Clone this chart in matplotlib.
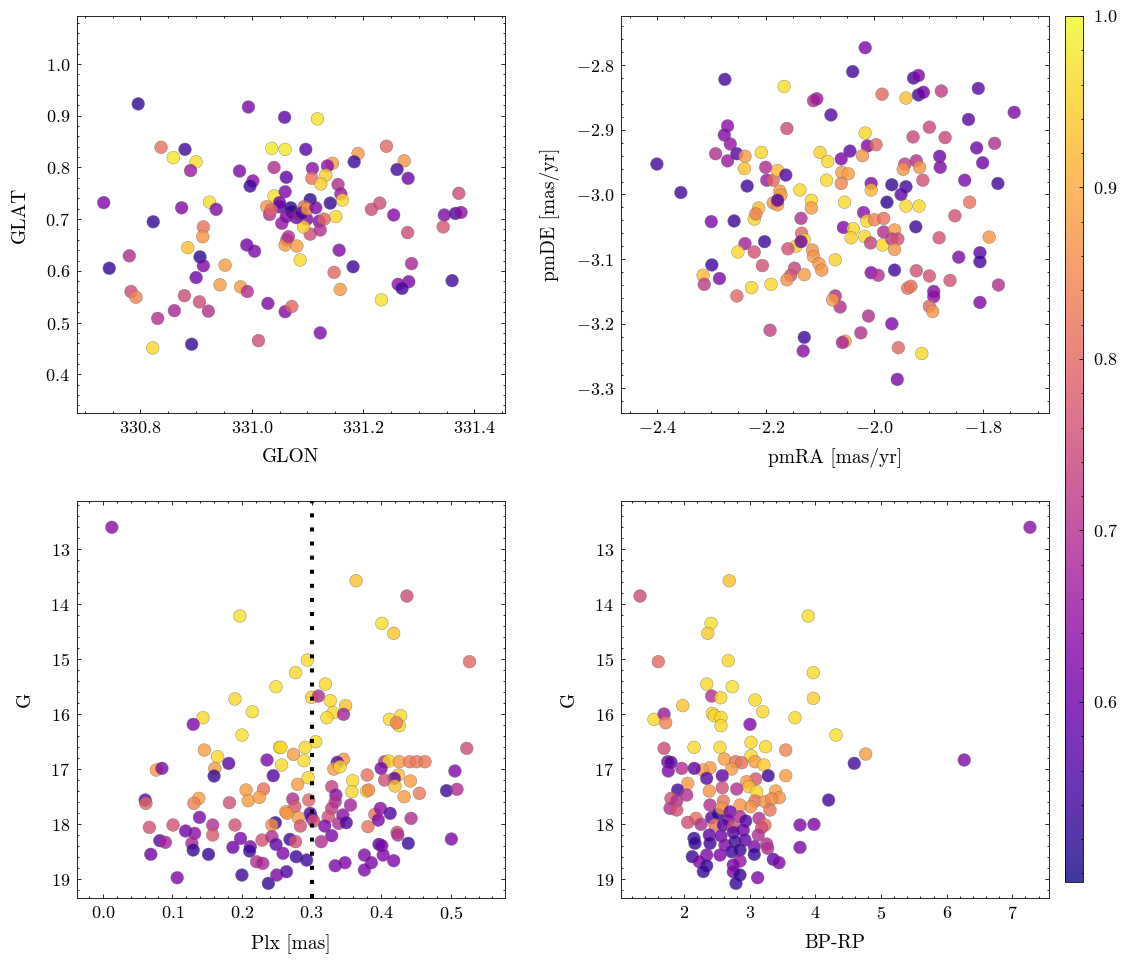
import matplotlib
matplotlib.use("Agg")
import matplotlib.pyplot as plt
from matplotlib.ticker import MultipleLocator, AutoMinorLocator
from matplotlib.colors import Normalize

plt.rcParams.update({
    'font.family': 'serif', 'font.serif': ['cmr10', 'DejaVu Serif'],
    'mathtext.fontset': 'cm', 'axes.formatter.use_mathtext': True,
    'font.size': 13, 'axes.labelsize': 14,
    'xtick.direction': 'in', 'ytick.direction': 'in',
    'xtick.top': True, 'ytick.right': True,
    'xtick.minor.visible': True, 'ytick.minor.visible': True,
    'xtick.major.size': 3, 'xtick.minor.size': 1.5,
    'ytick.major.size': 3, 'ytick.minor.size': 1.5,
    'xtick.major.width': 0.6, 'xtick.minor.width': 0.6,
    'ytick.major.width': 0.6, 'ytick.minor.width': 0.6,
    'axes.linewidth': 0.6,
})

# ---------------- data: sky positions ----------------
glon = [330.796, 330.994, 331.059, 330.837, 330.880, 330.859, 330.900, 330.890, 331.036, 331.060,
        330.978, 331.002, 330.997, 331.040, 331.062, 330.734, 330.874, 330.924, 330.936, 330.823,
        330.913, 330.912, 330.885, 330.780, 330.744, 330.907, 330.913, 330.952, 330.900, 330.991,
        331.005, 330.783, 330.792, 330.879, 330.906, 330.943, 330.980, 330.992, 330.861, 330.922,
        330.831, 331.029, 331.060, 331.012, 330.822, 330.892, 331.040, 331.027, 331.032, 331.050,
        331.060, 331.054, 331.063, 331.060, 331.118, 331.097, 331.191, 331.184, 331.242, 331.274,
        331.261, 331.281, 331.145, 331.136, 331.109, 331.108, 331.133, 331.124, 331.155, 331.160,
        331.163, 331.141, 331.105, 331.151, 331.072, 331.094, 331.084, 331.099, 331.121, 331.130,
        331.105, 331.123, 331.093, 331.066, 331.081, 331.087, 331.072, 331.215, 331.230, 331.255,
        331.280, 331.157, 331.182, 331.148, 331.159, 331.233, 331.287, 331.282, 331.263, 331.270,
        331.123, 331.372, 331.346, 331.366, 331.376, 331.344, 331.360,
        331.070, 331.080, 331.050, 331.090, 331.100, 331.062, 331.115, 331.035]
glat = [0.923, 0.917, 0.897, 0.839, 0.835, 0.819, 0.811, 0.794, 0.837, 0.835,
        0.793, 0.774, 0.764, 0.800, 0.781, 0.732, 0.722, 0.733, 0.719, 0.695,
        0.685, 0.666, 0.645, 0.629, 0.605, 0.627, 0.610, 0.611, 0.587, 0.650,
        0.638, 0.560, 0.549, 0.552, 0.540, 0.573, 0.569, 0.560, 0.523, 0.522,
        0.508, 0.537, 0.521, 0.465, 0.451, 0.458, 0.745, 0.724, 0.709, 0.724,
        0.753, 0.692, 0.660, 0.650, 0.894, 0.835, 0.827, 0.811, 0.841, 0.813,
        0.796, 0.779, 0.808, 0.803, 0.798, 0.779, 0.785, 0.768, 0.767, 0.749,
        0.737, 0.731, 0.738, 0.705, 0.714, 0.724, 0.711, 0.700, 0.696, 0.700,
        0.671, 0.679, 0.685, 0.666, 0.648, 0.621, 0.531, 0.719, 0.731, 0.708,
        0.674, 0.640, 0.608, 0.597, 0.564, 0.544, 0.614, 0.579, 0.574, 0.566,
        0.480, 0.750, 0.708, 0.711, 0.713, 0.685, 0.581,
        0.722, 0.703, 0.732, 0.712, 0.720, 0.705, 0.722, 0.718]
prob_sky = [0.53, 0.62, 0.57, 0.82, 0.55, 0.98, 0.97, 0.66, 0.98, 0.98,
            0.62, 0.64, 0.54, 0.70, 0.58, 0.62, 0.63, 0.97, 0.63, 0.53,
            0.82, 0.87, 0.93, 0.70, 0.53, 0.52, 0.62, 0.88, 0.60, 0.60,
            0.62, 0.75, 0.85, 0.75, 0.75, 0.88, 0.88, 0.70, 0.68, 0.70,
            0.70, 0.62, 0.63, 0.75, 0.96, 0.53, 0.97, 0.87, 0.70, 0.58,
            0.62, 0.65, 0.70, 0.88, 0.97, 0.57, 0.88, 0.54, 0.80, 0.87,
            0.55, 0.60, 0.88, 0.64, 0.64, 0.82, 0.95, 0.95, 0.70, 0.66,
            0.96, 0.53, 0.52, 0.96, 0.52, 0.80, 0.95, 0.63, 0.63, 0.80,
            0.75, 0.70, 0.95, 0.70, 0.88, 0.96, 0.80, 0.75, 0.75, 0.63,
            0.75, 0.62, 0.54, 0.80, 0.88, 0.97, 0.68, 0.62, 0.64, 0.55,
            0.62, 0.75, 0.62, 0.55, 0.64, 0.77, 0.55,
            0.52, 0.60, 0.60, 0.56, 0.88, 0.62, 0.62, 0.80]

# ---------------- data: proper motions ----------------
pmra = [-2.400, -2.356, -2.275, -2.166, -2.112, -2.106, -2.080, -2.161, -2.270, -2.276,
        -2.265, -2.292, -2.270, -2.253, -2.238, -2.239, -2.208, -2.200, -2.198, -2.186,
        -2.178, -2.163, -2.234, -2.174, -2.172, -2.186, -2.178, -2.178, -2.137, -2.116,
        -2.116, -2.100, -2.086, -2.088, -2.213, -2.221, -2.218, -2.300, -2.258, -2.135,
        -2.202, -2.238, -2.221, -2.251, -2.134, -2.129, -2.144, -2.135, -2.159, -2.114,
        -2.112, -2.102, -2.097, -2.299, -2.315, -2.313, -2.285, -2.206, -2.147, -2.154,
        -2.161, -2.129, -2.226, -2.190, -2.253, -2.192, -2.129, -2.131, -2.072, -2.072,
        -2.017, -2.040, -1.986, -1.942, -1.928, -1.919, -1.919, -1.910, -1.877, -1.809,
        -1.743, -1.827, -1.899, -1.929, -1.870, -1.779, -1.812, -1.801, -1.880, -1.879,
        -1.923, -1.944, -1.917, -1.947, -1.911, -1.834, -1.773, -2.017, -2.013, -1.997,
        -2.022, -2.045, -2.061, -2.060, -2.048, -2.061, -2.006, -2.006, -1.968, -1.942,
        -1.951, -1.977, -2.055, -1.942, -1.918, -2.020, -2.014, -2.000, -1.983, -2.057,
        -2.039, -2.043, -2.018, -2.007, -1.985, -1.983, -1.963, -1.968, -1.957, -1.963,
        -1.924, -1.881, -1.852, -1.825, -1.789, -1.845, -1.806, -1.806, -2.006, -1.993,
        -1.963, -1.923, -1.899, -1.861, -1.772, -1.939, -1.933, -1.891, -1.891, -1.899,
        -1.893, -1.806, -2.063, -2.077, -2.011, -1.968, -2.025, -2.054, -2.059, -1.956,
        -1.913, -1.958]
pmde = [-2.953, -2.997, -2.822, -2.833, -2.855, -2.852, -2.877, -2.898, -2.894, -2.908,
        -2.922, -2.937, -2.948, -2.937, -2.941, -2.960, -2.935, -2.958, -2.978, -2.978,
        -2.963, -2.970, -2.987, -2.995, -3.001, -3.013, -3.016, -3.009, -2.993, -3.009,
        -3.021, -2.935, -2.949, -2.978, -3.021, -3.038, -3.030, -3.042, -3.041, -3.037,
        -3.073, -3.076, -3.089, -3.089, -3.060, -3.070, -3.080, -3.073, -3.084, -3.086,
        -3.096, -3.107, -3.117, -3.109, -3.125, -3.139, -3.130, -3.110, -3.114, -3.125,
        -3.132, -3.124, -3.144, -3.139, -3.157, -3.210, -3.221, -3.242, -3.157, -3.101,
        -2.773, -2.810, -2.845, -2.851, -2.820, -2.816, -2.846, -2.842, -2.840, -2.836,
        -2.873, -2.884, -2.896, -2.911, -2.912, -2.921, -2.928, -2.951, -2.941, -2.958,
        -2.948, -2.953, -2.958, -2.961, -2.978, -2.978, -2.983, -2.905, -2.925, -2.923,
        -2.940, -2.933, -2.945, -2.966, -2.968, -2.983, -2.983, -2.993, -2.985, -2.988,
        -3.000, -3.012, -3.012, -3.018, -3.018, -3.028, -3.041, -3.039, -3.037, -3.051,
        -3.053, -3.067, -3.065, -3.075, -3.078, -3.058, -3.055, -3.069, -3.069, -3.085,
        -3.050, -3.067, -3.033, -3.012, -3.066, -3.097, -3.090, -3.104, -3.121, -3.125,
        -3.117, -3.118, -3.126, -3.133, -3.140, -3.145, -3.142, -3.150, -3.158, -3.173,
        -3.181, -3.167, -3.174, -3.163, -3.188, -3.200, -3.214, -3.227, -3.229, -3.237,
        -3.246, -3.286]
prob_pm = [0.55, 0.55, 0.55, 0.97, 0.70, 0.66, 0.57, 0.75, 0.64, 0.63,
           0.65, 0.70, 0.66, 0.57, 0.88, 0.93, 0.96, 0.70, 0.66, 0.80,
           0.92, 0.56, 0.54, 0.88, 0.88, 0.87, 0.88, 0.57, 0.96, 0.96,
           0.88, 0.95, 0.96, 0.96, 0.92, 0.96, 0.84, 0.62, 0.54, 0.70,
           0.54, 0.67, 0.76, 0.96, 0.80, 0.96, 0.95, 0.60, 0.76, 0.87,
           0.87, 0.87, 0.87, 0.54, 0.92, 0.72, 0.62, 0.76, 0.74, 0.76,
           0.86, 0.88, 0.96, 0.96, 0.80, 0.73, 0.54, 0.64, 0.70, 0.95,
           0.62, 0.55, 0.80, 0.93, 0.55, 0.62, 0.55, 0.60, 0.72, 0.57,
           0.62, 0.58, 0.74, 0.74, 0.74, 0.70, 0.60, 0.60, 0.60, 0.62,
           0.70, 0.72, 0.87, 0.87, 0.76, 0.62, 0.55, 0.96, 0.62, 0.80,
           0.87, 0.58, 0.62, 0.88, 0.88, 0.85, 0.62, 0.92, 0.53, 0.55,
           0.58, 0.52, 0.96, 0.96, 0.96, 0.64, 0.96, 0.84, 0.82, 0.62,
           0.96, 0.95, 0.96, 0.73, 0.96, 0.70, 0.88, 0.72, 0.76, 0.87,
           0.54, 0.76, 0.76, 0.82, 0.87, 0.62, 0.58, 0.55, 0.62, 0.70,
           0.55, 0.76, 0.76, 0.76, 0.70, 0.82, 0.82, 0.62, 0.64, 0.80,
           0.87, 0.62, 0.70, 0.88, 0.70, 0.62, 0.70, 0.88, 0.68, 0.80,
           0.96, 0.62]

# ---------------- data: parallax vs G ----------------
plx = [0.013, 0.197, 0.249, 0.190, 0.215, 0.144, 0.130, 0.200, 0.254, 0.256,
       0.146, 0.165, 0.181, 0.236, 0.257, 0.077, 0.085, 0.161, 0.160, 0.245,
       0.206, 0.231, 0.209, 0.225, 0.061, 0.062, 0.138, 0.131, 0.182, 0.263,
       0.067, 0.101, 0.119, 0.132, 0.139, 0.158, 0.158, 0.190, 0.248, 0.243,
       0.082, 0.090, 0.128, 0.130, 0.069, 0.152, 0.198, 0.212, 0.211, 0.187,
       0.229, 0.243, 0.249, 0.259, 0.221, 0.230, 0.107, 0.200, 0.238, 0.250,
       0.264, 0.269,
       0.364, 0.437, 0.401, 0.418, 0.527, 0.294, 0.277, 0.320, 0.300, 0.310,
       0.327, 0.349, 0.331, 0.322, 0.346, 0.412, 0.428, 0.426, 0.422, 0.523,
       0.306, 0.291, 0.274, 0.289, 0.346, 0.337, 0.332, 0.341, 0.295, 0.280,
       0.329, 0.335, 0.359, 0.358, 0.380, 0.379, 0.382, 0.405, 0.411, 0.426,
       0.441, 0.451, 0.463, 0.400, 0.425, 0.419, 0.405, 0.420, 0.442, 0.433,
       0.455, 0.506, 0.494, 0.509, 0.273, 0.296, 0.276, 0.329, 0.356, 0.334,
       0.298, 0.300, 0.281, 0.265, 0.284, 0.303, 0.324, 0.319, 0.339, 0.345,
       0.350, 0.329, 0.314, 0.381, 0.391, 0.396, 0.399, 0.413, 0.443, 0.423,
       0.424, 0.397, 0.401, 0.439, 0.501, 0.277, 0.278, 0.293, 0.334, 0.348,
       0.376, 0.386, 0.376, 0.403, 0.418]
g_plx = [12.605, 14.218, 15.503, 15.727, 15.958, 16.067, 16.188, 16.382, 16.606, 16.606,
         16.655, 16.776, 16.897, 16.836, 16.927, 17.018, 16.988, 16.988, 17.127, 17.121,
         17.382, 17.364, 17.576, 17.515, 17.564, 17.624, 17.533, 17.624, 17.612, 17.776,
         18.061, 18.018, 18.127, 18.170, 17.879, 18.018, 18.200, 18.018, 17.976, 18.018,
         18.303, 18.333, 18.351, 18.473, 18.551, 18.551, 18.261, 18.412, 18.491, 18.424,
         18.291, 18.230, 18.370, 18.533, 18.685, 18.715, 18.976, 18.927, 19.079, 18.927,
         18.867, 18.279,
         13.576, 13.855, 14.352, 14.533, 15.048, 15.018, 15.248, 15.455, 15.697, 15.673,
         15.758, 15.848, 15.976, 16.067, 16.006, 16.097, 16.030, 16.212, 16.158, 16.624,
         16.503, 16.606, 16.733, 16.848, 16.824, 16.879, 17.000, 16.958, 17.158, 17.279,
         17.321, 17.473, 17.212, 17.412, 17.109, 17.400, 17.382, 16.867, 16.855, 16.867,
         16.867, 16.867, 16.867, 16.988, 17.109, 17.170, 17.200, 17.309, 17.218, 17.503,
         17.442, 17.036, 17.394, 17.369, 17.545, 17.564, 17.685, 17.715, 17.655, 17.594,
         17.806, 17.885, 17.885, 17.806, 18.036, 17.945, 17.867, 18.036, 17.988, 17.836,
         17.976, 18.212, 18.321, 18.048, 17.824, 17.927, 17.715, 17.806, 17.897, 18.152,
         18.200, 18.370, 18.394, 18.351, 18.273, 18.321, 18.594, 18.655, 18.758, 18.703,
         18.564, 18.703, 18.836, 18.564, 18.667]
prob_plx = [0.64, 0.97, 0.97, 0.96, 0.97, 0.96, 0.62, 0.97, 0.96, 0.96,
            0.88, 0.96, 0.57, 0.62, 0.96, 0.88, 0.62, 0.88, 0.53, 0.57,
            0.88, 0.82, 0.88, 0.88, 0.57, 0.80, 0.88, 0.84, 0.76, 0.88,
            0.76, 0.76, 0.60, 0.64, 0.62, 0.70, 0.78, 0.76, 0.53, 0.86,
            0.57, 0.68, 0.68, 0.53, 0.60, 0.53, 0.62, 0.62, 0.54, 0.60,
            0.76, 0.70, 0.58, 0.62, 0.70, 0.68, 0.62, 0.54, 0.53, 0.62,
            0.57, 0.54,
            0.93, 0.75, 0.97, 0.94, 0.80, 0.96, 0.96, 0.96, 0.95, 0.70,
            0.96, 0.93, 0.96, 0.96, 0.68, 0.96, 0.96, 0.96, 0.84, 0.75,
            0.96, 0.96, 0.88, 0.96, 0.88, 0.57, 0.88, 0.96, 0.96, 0.88,
            0.73, 0.64, 0.96, 0.96, 0.82, 0.96, 0.85, 0.70, 0.96, 0.88,
            0.83, 0.83, 0.83, 0.62, 0.93, 0.57, 0.76, 0.93, 0.88, 0.88,
            0.83, 0.62, 0.54, 0.70, 0.70, 0.80, 0.77, 0.72, 0.67, 0.70,
            0.56, 0.60, 0.88, 0.87, 0.76, 0.76, 0.76, 0.62, 0.70, 0.64,
            0.56, 0.62, 0.70, 0.82, 0.82, 0.62, 0.64, 0.56, 0.70, 0.76,
            0.70, 0.56, 0.62, 0.54, 0.62, 0.76, 0.54, 0.54, 0.62, 0.62,
            0.62, 0.62, 0.62, 0.62, 0.62]
plx_cut = 0.3

# ---------------- data: colour-magnitude ----------------
bprp = [7.270, 4.313, 4.765, 4.591, 6.268, 4.200,
        1.325, 2.686, 3.890, 2.407, 2.357, 1.604, 2.671, 3.967, 2.341, 2.732,
        3.967, 2.417, 2.555, 1.976, 3.078, 3.195, 2.427, 2.457, 2.559, 2.559,
        1.538, 1.691, 1.716, 3.687, 3.002, 2.148, 2.544, 3.017, 3.240, 3.546,
        1.691, 3.017, 2.610, 2.784, 2.875, 3.078, 3.215, 2.722, 2.392, 2.280,
        1.747, 1.797, 1.756, 1.960, 2.152, 2.341, 2.579, 3.280, 3.546, 3.088,
        2.951, 2.986, 2.052, 2.579, 2.799, 2.381, 1.899, 2.037, 3.103, 3.393,
        3.448, 3.078, 3.230, 3.332, 3.306, 3.012, 2.849, 2.392, 2.595, 1.797,
        1.884, 1.782, 1.884, 2.178, 2.052, 2.255, 2.417, 2.518, 2.570, 2.697,
        2.671, 2.468, 2.595, 2.747, 2.849, 2.936, 2.899, 2.747, 3.139, 3.230,
        3.180, 3.128, 2.381, 2.148, 2.163, 2.392, 2.559, 2.620, 2.773, 2.925,
        3.067, 3.256, 3.271, 2.122, 2.341, 2.229, 2.341, 2.290, 2.544, 2.722,
        2.849, 2.849, 2.747, 2.747, 2.849, 2.788, 3.118, 3.067, 3.357, 3.444,
        3.764, 3.977, 3.764]
g_cmd = [12.605, 16.382, 16.727, 16.897, 16.836, 17.564,
         13.855, 13.576, 14.218, 14.352, 14.533, 15.048, 15.030, 15.248, 15.455, 15.503,
         15.715, 15.673, 15.703, 15.848, 15.745, 15.958, 15.988, 16.030, 16.061, 16.212,
         16.097, 16.000, 16.158, 16.067, 16.188, 16.606, 16.606, 16.515, 16.594, 16.655,
         16.624, 16.758, 16.818, 16.867, 16.885, 16.867, 16.927, 17.000, 16.976, 17.018,
         16.867, 16.879, 17.036, 16.988, 16.988, 17.170, 17.121, 17.121, 17.121, 17.182,
         17.230, 17.321, 17.261, 17.339, 17.364, 17.400, 17.382, 17.473, 17.412, 17.400,
         17.521, 17.582, 17.594, 17.545, 17.745, 17.685, 17.655, 17.655, 17.582, 17.533,
         17.582, 17.715, 17.745, 17.897, 17.970, 18.006, 17.885, 17.818, 17.715, 17.776,
         17.927, 18.018, 18.018, 18.048, 17.867, 17.945, 18.109, 18.152, 17.897, 18.018,
         18.067, 18.200, 18.200, 18.261, 18.351, 18.351, 18.218, 18.382, 18.321, 18.291,
         18.412, 18.364, 18.442, 18.594, 18.564, 18.685, 18.758, 18.864, 18.564, 18.503,
         18.473, 18.673, 18.745, 18.867, 18.927, 19.079, 18.976, 18.551, 18.642, 18.703,
         18.018, 18.006, 18.424]
prob_cmd = [0.64, 0.97, 0.88, 0.55, 0.62, 0.55,
            0.75, 0.93, 0.97, 0.97, 0.94, 0.80, 0.96, 0.96, 0.96, 0.97,
            0.95, 0.70, 0.96, 0.93, 0.96, 0.96, 0.96, 0.96, 0.96, 0.96,
            0.96, 0.66, 0.84, 0.96, 0.62, 0.96, 0.96, 0.96, 0.96, 0.85,
            0.75, 0.96, 0.88, 0.82, 0.82, 0.88, 0.94, 0.88, 0.88, 0.88,
            0.62, 0.57, 0.62, 0.70, 0.58, 0.57, 0.58, 0.54, 0.88, 0.77,
            0.87, 0.93, 0.88, 0.76, 0.70, 0.87, 0.54, 0.70, 0.96, 0.88,
            0.87, 0.82, 0.87, 0.86, 0.82, 0.87, 0.87, 0.70, 0.82, 0.76,
            0.70, 0.70, 0.76, 0.82, 0.76, 0.70, 0.57, 0.52, 0.87, 0.60,
            0.62, 0.82, 0.57, 0.76, 0.70, 0.56, 0.60, 0.57, 0.70, 0.82,
            0.76, 0.70, 0.58, 0.53, 0.53, 0.54, 0.60, 0.62, 0.54, 0.58,
            0.62, 0.70, 0.70, 0.54, 0.62, 0.62, 0.54, 0.53, 0.62, 0.54,
            0.53, 0.65, 0.62, 0.62, 0.53, 0.53, 0.62, 0.53, 0.58, 0.62,
            0.62, 0.62, 0.62]

prob_min, prob_max = 0.495, 1.0

# ---------------- figure ----------------
W, H = 1133, 965
fig = plt.figure(figsize=(W / 100, H / 100), dpi=100)

def pos(x0, y0, x1, y1):
    return [x0 / W, 1 - y1 / H, (x1 - x0) / W, (y1 - y0) / H]

ax_sky = fig.add_axes(pos(77, 16, 505, 413))
ax_pm = fig.add_axes(pos(621, 16, 1049, 413))
ax_plx = fig.add_axes(pos(77, 501, 505, 898))
ax_cmd = fig.add_axes(pos(621, 501, 1049, 898))
cax = fig.add_axes(pos(1065, 16, 1083, 882))

norm = Normalize(vmin=prob_min, vmax=prob_max)
kw = dict(cmap='plasma', norm=norm, s=84, alpha=0.8, edgecolors='0.4', linewidths=0.3)

sc = ax_sky.scatter(glon, glat, c=prob_sky, **kw)
ax_pm.scatter(pmra, pmde, c=prob_pm, **kw)
ax_plx.scatter(plx, g_plx, c=prob_plx, **kw)
ax_cmd.scatter(bprp, g_cmd, c=prob_cmd, **kw)
ax_plx.axvline(plx_cut, color='black', lw=2.9, linestyle=(0, (1, 2.5)))

LP_X, LP_Y = 9, 12

ax_sky.set_xlim(330.686, 331.455)
ax_sky.set_ylim(0.325, 1.093)
ax_sky.xaxis.set_major_locator(MultipleLocator(0.2))
ax_sky.yaxis.set_major_locator(MultipleLocator(0.1))
ax_sky.set_xlabel('GLON', labelpad=LP_X)
ax_sky.set_ylabel('GLAT', labelpad=LP_Y)

ax_pm.set_xlim(-2.466, -1.679)
ax_pm.set_ylim(-3.338, -2.724)
ax_pm.xaxis.set_major_locator(MultipleLocator(0.2))
ax_pm.yaxis.set_major_locator(MultipleLocator(0.1))
ax_pm.set_xlabel('pmRA [mas/yr]', labelpad=LP_X)
ax_pm.set_ylabel('pmDE [mas/yr]', labelpad=11)

ax_plx.set_xlim(-0.037, 0.578)
ax_plx.set_ylim(19.345, 12.127)
ax_plx.xaxis.set_major_locator(MultipleLocator(0.1))
ax_plx.yaxis.set_major_locator(MultipleLocator(1))
ax_plx.set_xlabel('Plx [mas]', labelpad=LP_X)
ax_plx.set_ylabel('G', labelpad=LP_Y)

ax_cmd.set_xlim(1.035, 7.56)
ax_cmd.set_ylim(19.345, 12.127)
ax_cmd.xaxis.set_major_locator(MultipleLocator(1))
ax_cmd.yaxis.set_major_locator(MultipleLocator(1))
ax_cmd.set_xlabel('BP-RP', labelpad=LP_X)
ax_cmd.set_ylabel('G', labelpad=LP_Y)

for ax in (ax_sky, ax_pm, ax_plx, ax_cmd):
    ax.xaxis.set_minor_locator(AutoMinorLocator())
    ax.yaxis.set_minor_locator(AutoMinorLocator())
    ax.tick_params(which='both', pad=5)

cb = fig.colorbar(sc, cax=cax)
cb.solids.set_alpha(0.8)
cb.set_ticks([0.6, 0.7, 0.8, 0.9, 1.0])
cb.minorticks_on()
cax.tick_params(which='both', direction='in', right=True, left=False, pad=7)
cb.outline.set_linewidth(0.6)

fig.savefig('out.png', dpi=100)
